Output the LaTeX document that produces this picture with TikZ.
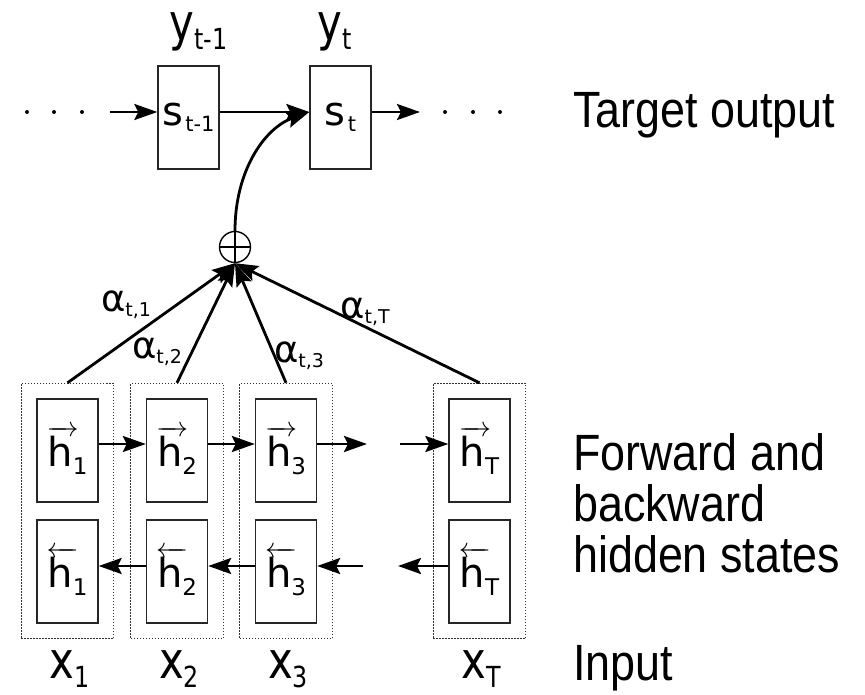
\documentclass[tikz,border=0pt]{standalone}
\usepackage{graphicx}
\usepackage{fontspec}
\newfontfamily\symfont{DejaVu Sans}
\newfontfamily\symwide[FakeStretch=0.82]{DejaVu Sans}
\newfontfamily\capfont[FakeStretch=0.88]{Liberation Sans}
\usetikzlibrary{positioning,arrows.meta,fit}

% labels with subscripts
\newcommand{\bigvar}[2]{{\symwide\fontsize{51}{51}\selectfont #1}{\symwide\fontsize{29}{29}\selectfont\raisebox{-9pt}{#2}}}
\newcommand{\svar}[1]{{\fontsize{40}{40}\selectfont s}\kern2pt{\fontsize{21}{21}\selectfont\raisebox{-6pt}{#1}}}
\newcommand{\hvar}[2]{\makebox[0pt][l]{\kern-1pt\raisebox{33pt}{\scalebox{2.8}{\fontsize{10}{10}\selectfont$#1{\hbox to 11.5pt{}}$}}}{\fontsize{40}{40}\selectfont h}{\fontsize{23}{23}\selectfont\raisebox{-8pt}{#2}}}
\newcommand{\avar}[1]{{\fontsize{37}{37}\selectfont α}{\fontsize{19}{19}\selectfont\raisebox{-5pt}{#1}}}

\tikzset{
  cell/.style={draw=black!85, line width=1.4pt, minimum width=61pt, minimum height=103pt, inner sep=0pt, font=\symfont},
  group/.style={draw=black!80, line width=1pt, dash pattern=on 1.5pt off 1.5pt, inner sep=15pt},
  conn/.style={line width=2.8pt, -{Stealth[length=23pt,width=16pt,inset=4pt]}},
  lab/.style={inner sep=0pt, font=\symfont},
  tag/.style={inner sep=0pt, font=\capfont\fontsize{51}{51}\selectfont},
}

\begin{document}
\begin{tikzpicture}[x=1pt,y=-1pt]
\useasboundingbox (0,0) rectangle (865,694);

% decoder
\node[cell] (s1) at (188.5,117.5) {\svar{t-1}};
\node[cell] (s2) at (340.5,117.5) {\svar{t}};
\node[lab, anchor=base] (y1) at (198.5,40) {\bigvar{y}{t-1}};
\node[lab, anchor=base] (y2) at (334.5,40) {\bigvar{y}{t}};

\foreach \x in {27,54,82,445,473,500}
  \fill (\x,112) circle (2pt);
\coordinate (lin) at (110,112);
\coordinate (rout) at (420,112);
\draw[conn] (lin) -- ([yshift=5.5pt]s1.west);
\draw[conn] ([yshift=5.5pt]s1.east) -- ([yshift=5.5pt]s2.west);
\draw[conn] ([yshift=5.5pt]s2.east) -- (rout);

% encoder
\foreach \n/\x in {1/67.5, 2/177, 3/286, T/479.5} {
  \node[cell] (f\n) at (\x,450.5) {\hvar{\overrightarrow}{\n}};
  \node[cell] (b\n) at (\x,571.5) {\hvar{\overleftarrow}{\n}};
  \node[group, fit=(f\n)(b\n)] (c\n) {};
  \node[lab, anchor=base] (x\n) at (\x+2,678) {\bigvar{x}{\n}};
}

\coordinate (fo) at (367,444);
\coordinate (fi) at (400,444);
\coordinate (bi) at (363,566);
\coordinate (bo) at (398,566);
\draw[conn] ([yshift=6.5pt]f1.east) -- ([yshift=6.5pt]f2.west);
\draw[conn] ([yshift=6.5pt]f2.east) -- ([yshift=6.5pt]f3.west);
\draw[conn] ([yshift=6.5pt]f3.east) -- (fo);
\draw[conn] (fi) -- ([yshift=6.5pt]fT.west);
\draw[conn] ([yshift=5.5pt]b2.west) -- ([yshift=5.5pt]b1.east);
\draw[conn] ([yshift=5.5pt]b3.west) -- ([yshift=5.5pt]b2.east);
\draw[conn] (bi) -- ([yshift=5.5pt]b3.east);
\draw[conn] ([yshift=5.5pt]bT.west) -- (bo);

% weighted sum
\node[circle, draw, line width=1.4pt, minimum size=31pt, inner sep=0pt] (sum) at (235,247) {};
\draw[line width=2.4pt] (sum.north) -- (sum.south) (sum.west) -- (sum.east);
\foreach \n in {1,2,3,T}
  \draw[conn] (c\n.north) -- (sum.south);
\draw[conn] (sum.north) .. controls (235,170) and (265,128) .. ([yshift=5.5pt]s2.west);

\node[lab] (a1) at (126,305) {\avar{t,1}};
\node[lab] (a2) at (157,352) {\avar{t,2}};
\node[lab] (a3) at (299,356) {\avar{t,3}};
\node[lab] (aT) at (365,312) {\avar{t,T}};

% side captions
\node[tag, anchor=base west] (tout) at (573,127) {Target output};
\node[tag, anchor=north west, align=left] (thid) at (573,433) {Forward and\\backward\\hidden states};
\node[tag, anchor=base west] (tin) at (573,680) {Input};
\end{tikzpicture}
\end{document}
